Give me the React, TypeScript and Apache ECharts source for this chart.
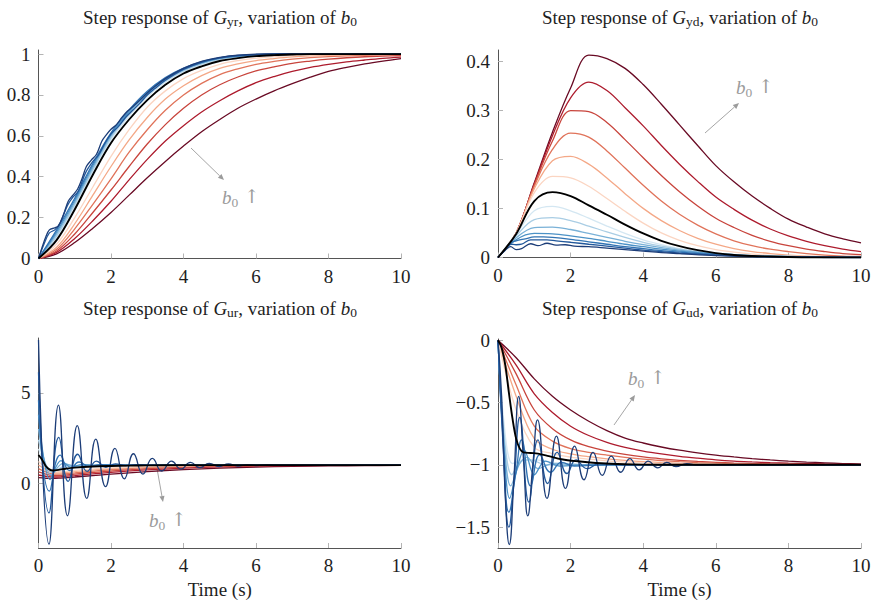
import React, { useEffect, useRef } from 'react';
import * as echarts from 'echarts';

type Pt = [number, number];

// ---------- shared grids / ticks ----------
const X_TICKS = [0, 2, 4, 6, 8, 10];
const Y_TICKS_YR = [0, 0.2, 0.4, 0.6, 0.8, 1];
const Y_TICKS_YD = [0, 0.1, 0.2, 0.3, 0.4];
const Y_TICKS_UR = [0, 5];
const Y_TICKS_UD = [-1.5, -1, -0.5, 0];
const T_GRID = [0, 0.5, 1, 1.5, 2, 2.5, 3, 3.5, 4, 4.5, 5, 5.5, 6, 6.5, 7, 7.5, 8, 8.5, 9, 9.5, 10];

const BLUES = ['#1c3d78', '#22589b', '#3173b3', '#4c92c6', '#79b1d7', '#a9cde4', '#d4e7f2'];
const REDS = ['#fbd5c2', '#f4a887', '#e0735a', '#c8443c', '#ad1b2d', '#690a24'];

// ---------- G_yr ----------
const YR_B1: Pt[] = [[0,0],[0.1,0.055],[0.2,0.105],[0.3,0.14],[0.45,0.15],[0.55,0.16],[0.7,0.22],[0.82,0.28],[0.95,0.31],[1.08,0.34],[1.2,0.39],[1.32,0.45],[1.45,0.48],[1.6,0.51],[1.75,0.575],[1.87,0.605],[2.0,0.632],[2.15,0.655],[2.3,0.69],[2.45,0.72],[2.6,0.742],[2.8,0.775],[3.0,0.81],[3.2,0.84],[3.5,0.88],[4,0.93],[4.5,0.964],[5,0.984],[5.5,0.995],[6,1.0],[7,1.002],[10,1]];
const YR_B2: Pt[] = [[0,0],[0.15,0.07],[0.3,0.125],[0.45,0.14],[0.6,0.175],[0.8,0.26],[0.95,0.3],[1.1,0.33],[1.3,0.42],[1.5,0.475],[1.65,0.505],[1.85,0.57],[2.0,0.61],[2.2,0.645],[2.4,0.69],[2.6,0.725],[2.8,0.76],[3,0.8],[3.2,0.83],[3.5,0.872],[4,0.925],[4.5,0.96],[5,0.982],[5.5,0.993],[6,0.998],[7,1.001],[10,1]];
const YR_B3 = [0,0.14,0.295,0.465,0.615,0.727,0.818,0.885,0.931,0.963,0.982,0.991,0.997,0.999,1,1,1,1,1,1,1];
const YR_B4 = [0,0.13,0.285,0.455,0.607,0.72,0.812,0.88,0.927,0.96,0.98,0.99,0.996,0.999,1,1,1,1,1,1,1];
const YR_B5 = [0,0.12,0.275,0.445,0.6,0.713,0.805,0.874,0.923,0.956,0.978,0.989,0.995,0.998,1,1,1,1,1,1,1];
const YR_B6 = [0,0.11,0.265,0.435,0.59,0.705,0.798,0.868,0.918,0.952,0.975,0.987,0.994,0.998,1,1,1,1,1,1,1];
const YR_B7 = [0,0.1,0.255,0.425,0.58,0.695,0.79,0.862,0.913,0.948,0.972,0.985,0.993,0.997,0.999,1,1,1,1,1,1];
const YR_K = [0,0.09,0.24,0.41,0.565,0.68,0.775,0.85,0.905,0.94,0.966,0.98,0.99,0.995,0.998,1,1,1,1,1,1];
const YR_R1 = [0,0.07,0.2,0.35,0.5,0.63,0.74,0.82,0.88,0.92,0.95,0.968,0.98,0.988,0.993,0.996,0.998,0.999,1,1,1];
const YR_R2 = [0,0.055,0.17,0.31,0.45,0.58,0.69,0.78,0.845,0.895,0.93,0.952,0.968,0.978,0.986,0.991,0.994,0.996,0.998,0.999,1];
const YR_R3 = [0,0.045,0.145,0.265,0.39,0.52,0.63,0.725,0.8,0.857,0.9,0.928,0.95,0.964,0.975,0.983,0.988,0.991,0.994,0.996,0.997];
const YR_R4 = [0,0.037,0.12,0.225,0.335,0.45,0.56,0.655,0.735,0.8,0.85,0.888,0.918,0.938,0.955,0.966,0.975,0.982,0.987,0.99,0.993];
const YR_R5 = [0,0.03,0.098,0.185,0.28,0.385,0.485,0.575,0.65,0.717,0.772,0.82,0.86,0.89,0.915,0.935,0.95,0.962,0.971,0.979,0.985];
const YR_R6 = [0,0.023,0.078,0.148,0.225,0.31,0.395,0.475,0.55,0.62,0.68,0.735,0.78,0.82,0.855,0.887,0.915,0.935,0.952,0.966,0.978];

// ---------- G_yd ----------
const YD_B1: Pt[] = [[0,0],[0.2,0.015],[0.35,0.022],[0.5,0.016],[0.65,0.018],[0.9,0.028],[1.1,0.024],[1.35,0.029],[1.6,0.025],[1.85,0.026],[2.1,0.023],[2.5,0.022],[3,0.019],[3.5,0.016],[4,0.013],[4.5,0.01],[5,0.008],[6,0.004],[7,0.002],[8,0.001],[10,0]];
const YD_B2: Pt[] = [[0,0],[0.2,0.016],[0.35,0.027],[0.5,0.026],[0.65,0.027],[0.9,0.036],[1.1,0.036],[1.35,0.036],[1.6,0.034],[2,0.031],[2.5,0.027],[3,0.023],[3.5,0.019],[4,0.015],[4.5,0.012],[5,0.009],[6,0.005],[7,0.002],[8,0.001],[10,0]];
const YD_B3: Pt[] = [[0,0],[0.2,0.016],[0.35,0.03],[0.5,0.034],[0.75,0.038],[1,0.042],[1.25,0.042],[1.5,0.041],[2,0.037],[2.5,0.032],[3,0.027],[3.5,0.022],[4,0.018],[4.5,0.014],[5,0.011],[6,0.006],[7,0.003],[8,0.001],[10,0]];
const YD_B4 = [0,0.036,0.049,0.048,0.044,0.039,0.033,0.027,0.022,0.017,0.013,0.01,0.007,0.005,0.003,0.002,0.001,0.001,0,0,0];
const YD_B5 = [0,0.04,0.061,0.062,0.057,0.049,0.041,0.033,0.026,0.02,0.015,0.011,0.008,0.006,0.004,0.003,0.002,0.001,0,0,0];
const YD_B6 = [0,0.044,0.077,0.081,0.075,0.064,0.052,0.041,0.031,0.023,0.017,0.012,0.008,0.006,0.004,0.003,0.002,0.001,0,0,0];
const YD_B7 = [0,0.047,0.095,0.104,0.095,0.08,0.064,0.049,0.036,0.026,0.018,0.013,0.009,0.006,0.004,0.003,0.002,0.001,0,0,0];
const YD_K = [0,0.048,0.115,0.133,0.125,0.106,0.087,0.067,0.049,0.034,0.023,0.015,0.009,0.005,0.003,0.002,0.001,0,0,0,0];
const YD_R1 = [0,0.05,0.132,0.165,0.162,0.145,0.12,0.094,0.07,0.05,0.035,0.024,0.016,0.011,0.007,0.004,0.003,0.002,0.001,0,0];
const YD_R2 = [0,0.05,0.14,0.197,0.206,0.19,0.162,0.13,0.1,0.075,0.055,0.039,0.027,0.018,0.012,0.008,0.005,0.003,0.002,0.001,0.001];
const YD_R3 = [0,0.05,0.145,0.22,0.253,0.245,0.217,0.182,0.147,0.115,0.088,0.066,0.048,0.034,0.024,0.017,0.012,0.008,0.005,0.003,0.002];
const YD_R4 = [0,0.05,0.148,0.237,0.299,0.297,0.275,0.24,0.203,0.167,0.134,0.105,0.08,0.061,0.045,0.033,0.024,0.017,0.012,0.008,0.006];
const YD_R5 = [0,0.05,0.15,0.248,0.325,0.357,0.34,0.305,0.268,0.228,0.19,0.155,0.123,0.098,0.076,0.058,0.044,0.033,0.024,0.017,0.012];
const YD_R6 = [0,0.05,0.152,0.255,0.345,0.412,0.405,0.385,0.352,0.312,0.27,0.228,0.187,0.154,0.125,0.1,0.078,0.062,0.048,0.038,0.03];

// ---------- G_ur ----------
const UR_B1: Pt[] = [[0,7.94],[0.29,-3.39],[0.55,4.33],[0.8,-1.81],[1.07,3.19],[1.33,-0.85],[1.58,2.44],[1.85,-0.2],[2.11,1.93],[2.37,0.24],[2.62,1.63],[2.88,0.5],[3.14,1.37],[3.4,0.67],[3.67,1.22],[3.93,0.78],[4.19,1.15],[4.45,0.86],[4.71,1.1],[4.98,0.92],[5.24,1.06],[5.5,0.95],[5.77,1.03],[6.03,0.97],[6.3,1.02],[6.56,0.99],[7,1],[8,1],[10,1]];
const UR_B2: Pt[] = [[0,6.15],[0.29,-1.65],[0.56,2.54],[0.82,0.1],[1.08,1.6],[1.34,0.65],[1.6,1.22],[1.86,0.88],[2.12,1.07],[2.4,0.97],[2.7,1.02],[3.2,1],[10,1]];
const UR_B3: Pt[] = [[0,4.6],[0.3,-0.45],[0.6,1.55],[0.86,0.7],[1.12,1.17],[1.4,0.92],[1.7,1.03],[2.2,1],[10,1]];
const UR_B4: Pt[] = [[0,3.8],[0.32,0.2],[0.62,1.25],[0.9,0.88],[1.2,1.04],[1.6,0.98],[2.2,1],[10,1]];
const UR_B5: Pt[] = [[0,3.0],[0.35,0.45],[0.68,1.1],[1.0,0.95],[1.5,1.0],[10,1]];
const UR_B6: Pt[] = [[0,2.4],[0.38,0.6],[0.8,0.98],[1.3,0.97],[2,0.99],[10,1]];
const UR_B7: Pt[] = [[0,1.9],[0.4,0.65],[0.9,0.93],[1.5,0.96],[2.5,0.99],[10,1]];
const UR_K: Pt[] = [[0,1.56],[0.1,1.3],[0.2,0.95],[0.3,0.76],[0.4,0.7],[0.5,0.72],[0.75,0.8],[1,0.86],[1.5,0.92],[2,0.95],[2.5,0.97],[3,0.985],[4,0.997],[5,1],[10,1]];
const UR_R1: Pt[] = [[0,1.2],[0.2,0.85],[0.4,0.65],[0.6,0.63],[1,0.7],[1.5,0.78],[2,0.85],[3,0.93],[4,0.97],[5,0.99],[6,1],[10,1]];
const UR_R2: Pt[] = [[0,1.0],[0.2,0.75],[0.4,0.58],[0.6,0.57],[1,0.64],[1.5,0.73],[2,0.8],[3,0.9],[4,0.95],[5,0.98],[6,0.99],[7,1],[10,1]];
const UR_R3: Pt[] = [[0,0.8],[0.2,0.62],[0.4,0.5],[0.6,0.5],[1,0.57],[1.5,0.66],[2,0.74],[3,0.86],[4,0.93],[5,0.965],[6,0.985],[7,0.995],[10,1]];
const UR_R4: Pt[] = [[0,0.62],[0.2,0.5],[0.4,0.42],[0.6,0.42],[1,0.5],[1.5,0.59],[2,0.67],[3,0.8],[4,0.89],[5,0.94],[6,0.97],[7,0.985],[8,0.993],[10,1]];
const UR_R5: Pt[] = [[0,0.45],[0.2,0.38],[0.4,0.34],[0.6,0.35],[1,0.42],[1.5,0.51],[2,0.59],[3,0.73],[4,0.83],[5,0.9],[6,0.94],[7,0.965],[8,0.98],[10,0.995]];
const UR_R6: Pt[] = [[0,0.3],[0.2,0.27],[0.4,0.26],[0.6,0.28],[1,0.34],[1.5,0.42],[2,0.5],[3,0.64],[4,0.75],[5,0.83],[6,0.89],[7,0.93],[8,0.955],[9,0.97],[10,0.98]];

// ---------- G_ud ----------
const UD_B1: Pt[] = [[0,0],[0.1,-0.45],[0.2,-1.25],[0.31,-1.64],[0.44,-1.1],[0.57,-0.45],[0.7,-0.95],[0.82,-1.41],[0.96,-1.0],[1.09,-0.64],[1.35,-1.27],[1.61,-0.77],[1.86,-1.19],[2.11,-0.85],[2.37,-1.12],[2.62,-0.9],[2.87,-1.085],[3.12,-0.93],[3.38,-1.06],[3.63,-0.95],[3.89,-1.04],[4.14,-0.97],[4.4,-1.025],[4.65,-0.98],[4.9,-1.015],[5.2,-0.99],[5.5,-1.005],[6,-1],[10,-1]];
const UD_B2: Pt[] = [[0,0],[0.15,-0.9],[0.3,-1.5],[0.45,-1.1],[0.6,-0.62],[0.85,-1.3],[1.1,-0.8],[1.37,-1.15],[1.63,-0.9],[1.9,-1.07],[2.15,-0.96],[2.45,-1.03],[2.8,-0.99],[3.5,-1],[10,-1]];
const UD_B3: Pt[] = [[0,0],[0.15,-0.85],[0.3,-1.38],[0.5,-1.05],[0.65,-0.8],[0.9,-1.17],[1.15,-0.92],[1.45,-1.06],[1.75,-0.98],[2.1,-1.01],[3,-1],[10,-1]];
const UD_B4: Pt[] = [[0,0],[0.15,-0.8],[0.32,-1.27],[0.55,-1.0],[0.72,-0.88],[1.0,-1.08],[1.3,-0.97],[1.7,-1.01],[2.5,-1],[10,-1]];
const UD_B5: Pt[] = [[0,0],[0.15,-0.75],[0.35,-1.17],[0.6,-0.99],[0.8,-0.94],[1.1,-1.03],[1.5,-0.99],[2.5,-1],[10,-1]];
const UD_B6: Pt[] = [[0,0],[0.15,-0.7],[0.38,-1.08],[0.65,-0.97],[0.9,-0.96],[1.3,-1.0],[2,-1],[10,-1]];
const UD_B7: Pt[] = [[0,0],[0.15,-0.62],[0.4,-0.99],[0.7,-0.96],[1.0,-0.96],[1.5,-0.98],[2.5,-1],[10,-1]];
const UD_K: Pt[] = [[0,0],[0.1,-0.06],[0.2,-0.2],[0.3,-0.42],[0.4,-0.63],[0.5,-0.79],[0.6,-0.87],[0.7,-0.9],[0.9,-0.905],[1.1,-0.91],[1.4,-0.93],[1.75,-0.955],[2.2,-0.972],[2.7,-0.985],[3.5,-0.996],[4.5,-1],[10,-1]];
const UD_R1 = [0,-0.56,-0.86,-0.91,-0.938,-0.955,-0.968,-0.978,-0.985,-0.99,-0.994,-0.996,-0.998,-0.999,-1,-1,-1,-1,-1,-1,-1];
const UD_R2 = [0,-0.45,-0.79,-0.875,-0.912,-0.935,-0.952,-0.965,-0.975,-0.982,-0.988,-0.992,-0.995,-0.997,-0.998,-0.999,-1,-1,-1,-1,-1];
const UD_R3 = [0,-0.36,-0.69,-0.81,-0.87,-0.9,-0.922,-0.94,-0.955,-0.966,-0.975,-0.982,-0.987,-0.991,-0.994,-0.996,-0.997,-0.998,-0.999,-1,-1];
const UD_R4 = [0,-0.27,-0.56,-0.71,-0.8,-0.855,-0.89,-0.917,-0.937,-0.952,-0.964,-0.973,-0.98,-0.986,-0.99,-0.993,-0.995,-0.997,-0.998,-0.999,-1];
const UD_R5 = [0,-0.2,-0.43,-0.58,-0.69,-0.765,-0.82,-0.86,-0.89,-0.913,-0.932,-0.947,-0.96,-0.97,-0.977,-0.983,-0.987,-0.99,-0.993,-0.995,-0.997];
const UD_R6 = [0,-0.14,-0.31,-0.45,-0.56,-0.65,-0.725,-0.785,-0.825,-0.857,-0.883,-0.904,-0.922,-0.937,-0.95,-0.961,-0.97,-0.978,-0.984,-0.99,-0.994];

const zip = (vs: number[]): Pt[] => T_GRID.map((t, i) => [t, vs[i]] as Pt);

const PANELS = [
  { title: 'yr', yMin: 0, yMax: 1.02, yTicks: Y_TICKS_YR,
    curves: [YR_B1, YR_B2, zip(YR_B3), zip(YR_B4), zip(YR_B5), zip(YR_B6), zip(YR_B7), zip(YR_K), zip(YR_R1), zip(YR_R2), zip(YR_R3), zip(YR_R4), zip(YR_R5), zip(YR_R6)] },
  { title: 'yd', yMin: 0, yMax: 0.4224, yTicks: Y_TICKS_YD,
    curves: [YD_B1, YD_B2, YD_B3, zip(YD_B4), zip(YD_B5), zip(YD_B6), zip(YD_B7), zip(YD_K), zip(YD_R1), zip(YD_R2), zip(YD_R3), zip(YD_R4), zip(YD_R5), zip(YD_R6)] },
  { title: 'ur', yMin: -3.6, yMax: 8.05, yTicks: Y_TICKS_UR,
    curves: [UR_B1, UR_B2, UR_B3, UR_B4, UR_B5, UR_B6, UR_B7, UR_K, UR_R1, UR_R2, UR_R3, UR_R4, UR_R5, UR_R6] },
  { title: 'ud', yMin: -1.668, yMax: 0.01, yTicks: Y_TICKS_UD,
    curves: [UD_B1, UD_B2, UD_B3, UD_B4, UD_B5, UD_B6, UD_B7, UD_K, zip(UD_R1), zip(UD_R2), zip(UD_R3), zip(UD_R4), zip(UD_R5), zip(UD_R6)] },
];

const GRIDS = [
  { left: 38.5, top: 50, width: 362.5, height: 208.5 },
  { left: 498, top: 50, width: 363, height: 207.5 },
  { left: 38.5, top: 338, width: 362.5, height: 210 },
  { left: 498, top: 339, width: 363, height: 209 },
];

const FONT = 'Liberation Serif';
const FS = 19;
const GRAY = '#9b9b9b';
const INK = '#1e1e1e';

function arrow(x1: number, y1: number, x2: number, y2: number): any[] {
  const dx = x2 - x1, dy = y2 - y1;
  const L = Math.hypot(dx, dy);
  const ux = dx / L, uy = dy / L;
  const hl = 6, hw = 2.6;
  const bx = x2 - ux * hl, by = y2 - uy * hl;
  return [
    { type: 'line', shape: { x1, y1, x2: bx, y2: by }, style: { stroke: GRAY, lineWidth: 0.9 }, silent: true },
    { type: 'polygon', shape: { points: [[x2, y2], [bx - uy * hw, by + ux * hw], [bx + uy * hw, by - ux * hw]] }, style: { fill: GRAY }, silent: true },
  ];
}

// "b0 ↑" annotation: left edge x, vertical centre y
function b0Label(x: number, y: number): any[] {
  const base = { type: 'text', silent: true };
  return [
    { ...base, x, y, style: { text: 'b', font: `italic ${FS}px ${FONT}`, fill: GRAY, align: 'left', verticalAlign: 'middle' } },
    { ...base, x: x + 9.5, y: y + 5, style: { text: '0', font: `13.5px ${FONT}`, fill: GRAY, align: 'left', verticalAlign: 'middle' } },
    { ...base, x: x + 22, y: y - 1, style: { text: '\u2191', font: `${FS}px 'DejaVu Serif', ${FONT}`, fill: GRAY, align: 'left', verticalAlign: 'middle' } },
  ];
}

export default function App() {
  const ref = useRef<HTMLDivElement>(null);
  useEffect(() => {
    if (!ref.current) return;
    const chart = echarts.init(ref.current, undefined, { renderer: 'svg' });
    const colors = [...BLUES, '#000000', ...REDS];
    const series: any[] = [];
    PANELS.forEach((p, pi) => {
      const order = [13, 12, 11, 10, 9, 8, 6, 5, 4, 3, 2, 1, 0, 7];
      order.forEach((ci) => {
        const osc = (pi >= 2 && ci <= 2);
        series.push({
          type: 'line', xAxisIndex: pi, yAxisIndex: pi, data: p.curves[ci],
          showSymbol: false, smooth: osc ? 0.5 : 0.35, clip: true, silent: true,
          lineStyle: { color: colors[ci], width: ci === 7 ? 1.9 : 1.3 },
          z: 2,
        });
      });
    });
    const titleRich = {
      n: { fontFamily: FONT, fontSize: FS, fontWeight: 'normal', color: INK, lineHeight: 22 },
      i: { fontFamily: FONT, fontSize: FS, fontWeight: 'normal', fontStyle: 'italic', color: INK, lineHeight: 22 },
      s: { fontFamily: FONT, fontSize: 13.5, fontWeight: 'normal', color: INK, verticalAlign: 'bottom', lineHeight: 13 },
    };
    const labelRich = { a: { fontFamily: FONT, fontSize: FS, color: INK } };
    const titleCenters = [[220, 6], [680, 6], [220, 297], [680, 297]];
    const labelStyle = { fontFamily: FONT, fontSize: FS, color: INK };
    const option: any = {
      animation: false,
      backgroundColor: '#ffffff',
      textStyle: { fontFamily: FONT },
      title: PANELS.map((p, i) => ({
        text: `{n|Step response of }{i|G}{s|${p.title}}{n|, variation of }{i|b}{s|0}`,
        left: titleCenters[i][0], top: titleCenters[i][1], textAlign: 'center',
        padding: 0,
        textStyle: { fontWeight: 'normal', fontFamily: FONT, fontSize: FS, rich: titleRich },
      })),
      grid: GRIDS.map((g) => ({ ...g, containLabel: false, outerBoundsMode: 'none' })),
      xAxis: PANELS.map((p, i) => ({
        type: 'value', gridIndex: i, min: 0, max: 10, interval: 2,
        name: i >= 2 ? 'Time (s)' : '', nameLocation: 'middle', nameGap: 32,
        nameTextStyle: { ...labelStyle },
        axisLine: { show: true, onZero: false, lineStyle: { color: '#555', width: 1 } },
        axisTick: { show: true, inside: true, length: 5, customValues: X_TICKS, lineStyle: { color: '#b4b4b4', width: 1 } },
        axisLabel: { ...labelStyle, margin: 8, customValues: X_TICKS, rich: labelRich,
          formatter: (v: number) => `{a|${String(+(+v).toFixed(2))}}` },
        splitLine: { show: false },
      })),
      yAxis: PANELS.map((p, i) => ({
        type: 'value', gridIndex: i, min: p.yMin, max: p.yMax,
        axisLine: { show: true, onZero: false, lineStyle: { color: '#555', width: 1 } },
        axisTick: { show: true, inside: true, length: 5, customValues: p.yTicks, lineStyle: { color: '#b4b4b4', width: 1 } },
        axisLabel: {
          ...labelStyle, margin: 8, customValues: p.yTicks, rich: labelRich,
          formatter: (v: number) => `{a|${String(+(+v).toFixed(2)).replace('-', '\u2212')}}`,
        },
        splitLine: { show: false },
      })),
      series,
      graphic: [
        ...arrow(191, 148, 224, 180), ...b0Label(222, 197),
        ...arrow(705, 133, 739, 103), ...b0Label(736, 87),
        ...arrow(156, 463, 163, 502), ...b0Label(149, 520),
        ...arrow(614, 425, 635, 395), ...b0Label(628, 378),
      ],
    };
    chart.setOption(option);
    return () => chart.dispose();
  }, []);
  return <div ref={ref} style={{ position: 'fixed', left: 0, top: 0, width: 874, height: 601 }} />;
}
